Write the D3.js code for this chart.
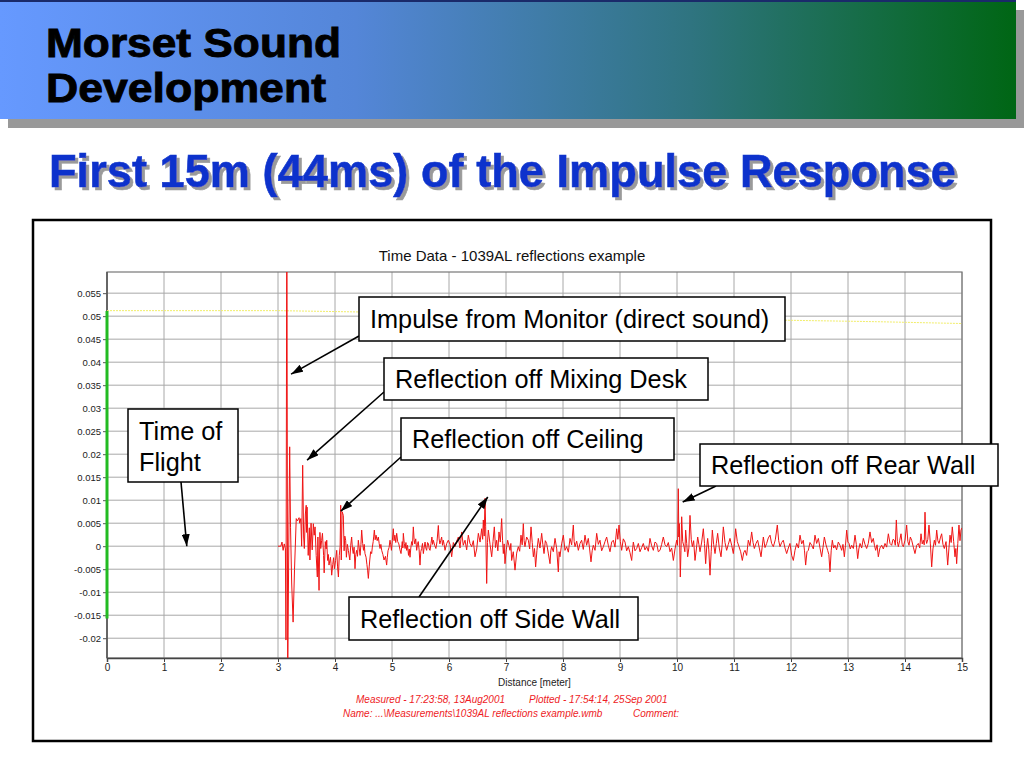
<!DOCTYPE html>
<html>
<head>
<meta charset="utf-8">
<script src="https://cdn.jsdelivr.net/npm/d3@7"></script>
<style>
  body { margin: 0; background: #fff; }
  svg { display: block; }
</style>
</head>
<body>
<svg id="slide" width="1024" height="768"></svg>
<script>
// axis ticks
const xTicks = d3.range(0, 16)
const yTicks = [-0.02, -0.015, -0.01, -0.005, 0, 0.005, 0.01, 0.015, 0.02, 0.025, 0.03, 0.035, 0.04, 0.045, 0.05, 0.055]
const yTickLabels = ["-0.02", "-0.015", "-0.01", "-0.005", "0", "0.005", "0.01", "0.015", "0.02", "0.025", "0.03", "0.035", "0.04", "0.045", "0.05", "0.055"]

// red time trace, [distance m, amplitude]
const onsetTrace = [
  [3.00, 0], [3.05, 0], [3.07, 0.0009], [3.09, -0.0009], [3.11, 0.0005], [3.13, -0.0006],
  [3.14, -0.0204], [3.155, 0.08], [3.17, -0.03], [3.19, 0.002], [3.205, 0.0216], [3.22, 0.004],
  [3.24, -0.008], [3.265, -0.0165], [3.29, -0.005], [3.32, 0.006], [3.34, 0.0055], [3.37, 0.0062],
  [3.38, 0.005], [3.40, 0.006], [3.415, 0.0], [3.433, 0.0176], [3.45, 0.002], [3.462, -0.0005],
  [3.48, 0.007], [3.495, 0.0089], [3.50, 0.003], [3.51, 0.0085], [3.53, -0.002], [3.55, 0.004],
  [3.56, -0.003], [3.58, 0.005], [3.60, -0.0008], [3.62, 0.0049], [3.635, 0.0024], [3.65, 0.0042],
  [3.67, -0.002], [3.69, -0.0067], [3.70, 0.002], [3.72, -0.0096], [3.735, 0.003], [3.75, -0.0005],
  [3.765, 0.0012], [3.78, 0.0028], [3.80, -0.002], [3.81, -0.0058], [3.83, 0.001], [3.845, -0.0006],
  [3.855, 0.0013], [3.87, -0.0031], [3.883, -0.0018], [3.895, -0.0041], [3.92, -0.0024], [3.93, -0.0038],
  [3.942, -0.0063], [3.96, -0.004], [3.975, -0.0025], [3.99, -0.0049]
]
const earlyTrace = [
  [4.01, -0.0031], [4.03, -0.0009], [4.045, -0.0045], [4.06, -0.0067], [4.075, -0.002], [4.09, 0.0],
  [4.10, 0.0089], [4.11, -0.003], [4.125, 0.0075], [4.146, 0.0067], [4.16, -0.001], [4.172, 0.0022],
  [4.187, 0.0013], [4.20, -0.0024], [4.217, 0.0004], [4.234, -0.0009], [4.26, -0.003], [4.276, 0.0002],
  [4.292, 0.0020], [4.305, -0.0004], [4.32, -0.0016], [4.335, -0.0002], [4.351, -0.0049], [4.365, -0.0018],
  [4.38, -0.0009], [4.395, -0.0022], [4.409, 0.0013], [4.425, -0.0004], [4.44, -0.002], [4.455, 0.0004],
  [4.468, 0.0035], [4.485, 0.0006], [4.50, -0.0009], [4.513, 0.0004], [4.526, -0.0016], [4.545, -0.0024],
  [4.56, -0.004], [4.572, -0.0052], [4.585, -0.0070], [4.60, -0.0045], [4.61, -0.003], [4.625, -0.0012],
  [4.643, -0.0016], [4.655, -0.0002], [4.67, 0.001], [4.68, 0.0022], [4.690, 0.0035], [4.705, 0.0014],
  [4.72, 0.0024], [4.74, 0.0012], [4.76, 0.0020], [4.775, 0.0006], [4.79, -0.0005], [4.805, 0.0004],
  [4.819, -0.0009], [4.84, -0.0018], [4.86, -0.003], [4.885, -0.0022], [4.906, -0.0041], [4.918, -0.0024],
  [4.93, -0.001], [4.948, -0.0003], [4.965, 0.0013], [4.978, 0.0003], [4.99, -0.0009], [5.006, 0.0012],
  [5.023, 0.0038], [5.036, 0.0012], [5.05, 0.0024], [5.066, 0.0008], [5.082, 0.0028], [5.10, 0.0010],
  [5.12, 0.0005], [5.14, -0.0008], [5.158, -0.0016], [5.17, -0.0002], [5.18, 0.001], [5.19, -0.0004],
  [5.199, 0.0028], [5.215, 0.0006], [5.23, -0.0005], [5.244, 0.0008], [5.257, -0.0009], [5.272, 0.0002],
  [5.29, -0.002], [5.303, -0.0006], [5.316, -0.0024], [5.33, -0.0004], [5.345, 0.001], [5.36, 0.0002],
  [5.374, 0.0042], [5.388, 0.0014], [5.40, 0.0005], [5.416, 0.0016], [5.433, -0.0009], [5.447, 0.0004],
  [5.46, 0.001], [5.476, -0.0008], [5.491, -0.0041], [5.505, -0.0012], [5.52, -0.0005], [5.535, 0.0006],
  [5.55, -0.0016], [5.565, -0.0002], [5.58, 0.0009], [5.594, -0.0004], [5.608, -0.0009], [5.624, 0.0008],
  [5.64, 0.0005], [5.653, -0.0006], [5.667, -0.0009], [5.684, 0.0006], [5.70, 0.002], [5.712, 0.0004],
  [5.725, 0.0013], [5.748, 0.0002], [5.77, -0.0005], [5.79, 0.0010], [5.813, 0.0045], [5.826, 0.0016],
  [5.84, 0.0005], [5.855, 0.0012], [5.871, 0.002], [5.886, 0.0002], [5.90, 0.0013], [5.915, 0.0004],
  [5.930, -0.0009], [5.96, 0.0006]
]
const midTrace = [
  [5.988, 0.0013], [6.018, 0.0004], [6.047, -0.0023], [6.076, 0.0008], [6.105, -0.0001], [6.135, 0.0011],
  [6.164, 0.0020], [6.193, -0.0004], [6.222, 0.0031], [6.25, 0.0002], [6.281, 0.0013], [6.31, -0.0008],
  [6.339, 0.0024], [6.368, 0.0006], [6.398, -0.0001], [6.427, 0.0012], [6.456, -0.0023], [6.486, -0.0006],
  [6.515, 0.0028], [6.545, 0.0009], [6.573, 0.0038], [6.59, 0.0015], [6.602, 0.0057], [6.618, 0.0022],
  [6.632, 0.0104], [6.643, 0.0042], [6.661, -0.0081], [6.675, 0.0008], [6.690, 0.0035], [6.72, 0.0004],
  [6.749, -0.0023], [6.772, 0.0010], [6.795, 0.0042], [6.815, -0.0003], [6.836, 0.0013], [6.857, -0.0010],
  [6.877, 0.0031], [6.90, 0.0009], [6.924, 0.0060], [6.94, 0.0012], [6.953, -0.0016], [6.968, 0.0005],
  [6.982, -0.0038], [7.005, -0.0008], [7.029, 0.0013], [7.05, 0.0002], [7.070, -0.0009], [7.085, 0.0006],
  [7.099, -0.0031], [7.128, -0.0012], [7.158, -0.0052], [7.187, -0.0015], [7.216, -0.0001], [7.24, -0.0011],
  [7.263, 0.0024], [7.284, 0.0003], [7.304, 0.0049], [7.318, 0.0012], [7.333, -0.0001], [7.362, 0.0020],
  [7.392, 0.0013], [7.415, -0.0006], [7.439, 0.0042], [7.46, 0.0008], [7.480, -0.0023], [7.50, -0.0005],
  [7.520, -0.0045], [7.543, -0.0009], [7.567, 0.0017], [7.596, -0.0004], [7.626, 0.0028], [7.646, 0.0004],
  [7.667, -0.0016], [7.69, 0.0012], [7.713, 0.0006], [7.742, -0.0015], [7.772, -0.0038], [7.786, -0.0010],
  [7.801, -0.0001], [7.83, -0.0012], [7.860, 0.0017], [7.89, -0.0006], [7.918, -0.0056], [7.932, -0.0012],
  [7.947, -0.0023], [7.976, 0.0005], [8.006, 0.0024], [8.035, -0.0009], [8.064, -0.0001], [8.094, -0.0013],
  [8.123, 0.0017], [8.152, 0.0003], [8.181, 0.0046], [8.196, 0.0010], [8.211, -0.0001], [8.24, 0.0011],
  [8.269, -0.0009], [8.298, 0.0006], [8.327, 0.0013], [8.356, -0.0007], [8.386, 0.0024], [8.415, 0.0002],
  [8.444, 0.0017], [8.467, -0.0006], [8.491, -0.0034], [8.512, -0.0010], [8.532, 0.0002], [8.562, -0.0009],
  [8.591, 0.0028], [8.62, 0.0004], [8.649, 0.0013], [8.678, -0.0010], [8.708, -0.0001], [8.737, 0.0010],
  [8.766, 0.0020], [8.795, 0.0002], [8.825, -0.0012], [8.854, 0.0009], [8.883, 0.0013], [8.912, -0.0002],
  [8.942, 0.0038], [8.962, 0.0015], [8.983, 0.0046], [9.006, 0.0010], [9.029, -0.0009]
]
const lateTrace = [
  [9.058, 0.0016], [9.088, 0.0009], [9.117, -0.0010], [9.146, -0.0001], [9.175, -0.0014], [9.205, -0.0031],
  [9.22, -0.0008], [9.234, 0.0009], [9.263, -0.0010], [9.292, -0.0005], [9.322, 0.0006], [9.351, -0.0012],
  [9.38, -0.0003], [9.409, 0.0006], [9.438, -0.0008], [9.468, -0.0001], [9.497, -0.0011], [9.526, 0.0017],
  [9.555, 0.0001], [9.585, -0.0009], [9.614, 0.0009], [9.643, 0.0006], [9.672, -0.0012], [9.702, -0.0009],
  [9.731, 0.0004], [9.760, 0.0020], [9.79, 0.0003], [9.819, -0.0001], [9.848, 0.0008], [9.877, -0.0012],
  [9.906, -0.0004], [9.936, -0.0031], [9.965, -0.0006], [9.994, 0.0013], [10.01, 0.0002], [10.023, 0.0125],
  [10.032, 0.0020], [10.041, 0.0049], [10.058, -0.0067], [10.07, -0.0010], [10.082, 0.0064], [10.10, 0.0010],
  [10.123, -0.0001], [10.138, -0.0012], [10.152, 0.0035], [10.17, 0.0006], [10.187, -0.0023], [10.208, -0.0004],
  [10.228, 0.0067], [10.25, 0.0015], [10.269, -0.0001], [10.292, 0.0012], [10.316, -0.0031], [10.34, -0.0006],
  [10.363, 0.0020], [10.384, 0.0004], [10.404, -0.0012], [10.433, 0.0009], [10.462, 0.0038], [10.482, 0.0006],
  [10.503, -0.0038], [10.52, -0.0004], [10.538, 0.0017], [10.558, -0.0008], [10.579, -0.0063], [10.6, -0.0012],
  [10.620, 0.0035], [10.643, 0.0004], [10.667, -0.0016], [10.69, 0.0006], [10.713, 0.0028], [10.742, -0.0004],
  [10.772, -0.0023], [10.792, 0.0003], [10.813, 0.0042], [10.842, 0.0008], [10.871, -0.0009], [10.9, 0.0004],
  [10.930, 0.0017], [10.959, 0.0002], [10.988, -0.0016], [11.008, 0.0006], [11.029, 0.0038], [11.058, 0.0010],
  [11.088, -0.0001], [11.117, -0.0012], [11.146, -0.0031], [11.17, -0.0014], [11.193, -0.0009], [11.222, -0.0020],
  [11.251, 0.0013], [11.28, 0.0001], [11.310, 0.0031], [11.334, 0.0008], [11.357, -0.0005], [11.386, 0.0006],
  [11.415, 0.0013], [11.444, -0.0004], [11.474, -0.0023], [11.494, -0.0002], [11.515, 0.0020], [11.544, -0.0003],
  [11.573, 0.0006], [11.602, 0.0018], [11.632, 0.0024], [11.66, 0.0006], [11.690, -0.0001], [11.725, 0.0014],
  [11.760, 0.0046], [11.784, 0.0012], [11.807, -0.0001], [11.836, 0.0008], [11.865, 0.0013], [11.895, -0.0004],
  [11.924, -0.0016], [11.953, -0.0004], [11.982, 0.0006], [12.012, -0.0020], [12.041, -0.0031]
]
const tailTrace = [
  [12.070, -0.0009], [12.10, 0.0006], [12.13, -0.0004], [12.158, 0.0024], [12.187, 0.0005], [12.216, 0.0013],
  [12.237, -0.0010], [12.257, -0.0041], [12.28, -0.0012], [12.304, -0.0009], [12.333, 0.0008], [12.363, 0.0002],
  [12.392, -0.0006], [12.421, 0.0024], [12.45, 0.0006], [12.480, 0.0017], [12.509, -0.0004], [12.538, -0.0023],
  [12.562, -0.0002], [12.585, 0.0020], [12.614, 0.0003], [12.643, -0.0009], [12.664, -0.0018], [12.684, -0.0056],
  [12.705, -0.0010], [12.725, 0.0013], [12.748, -0.0004], [12.772, 0.0002], [12.80, -0.0008], [12.830, 0.0009],
  [12.86, 0.0002], [12.889, -0.0009], [12.912, 0.0004], [12.936, -0.0023], [12.956, 0.0002], [12.977, 0.0035],
  [12.998, 0.0009], [13.018, 0.0006], [13.04, -0.0006], [13.064, 0.0002], [13.094, -0.0005], [13.123, 0.0024],
  [13.146, 0.0004], [13.170, -0.0027], [13.19, -0.0006], [13.211, 0.0006], [13.24, -0.0004], [13.269, 0.0017],
  [13.298, 0.0004], [13.327, -0.0005], [13.356, 0.0006], [13.386, 0.0031], [13.415, 0.0008], [13.444, 0.0017],
  [13.464, 0.0002], [13.485, -0.0009], [13.51, 0.0003], [13.532, -0.0023], [13.56, -0.0004], [13.591, 0.0002],
  [13.62, -0.0006], [13.649, 0.0006], [13.678, -0.0002], [13.708, 0.0027], [13.737, 0.0006], [13.766, 0.0002],
  [13.79, 0.0015], [13.813, 0.0013], [13.83, 0.0002], [13.848, 0.0057], [13.866, 0.0010], [13.883, -0.0001],
  [13.906, 0.0012], [13.930, 0.0027], [13.95, 0.0004], [13.971, -0.0001], [14.0, 0.0013], [14.029, 0.0046],
  [14.05, 0.0010], [14.070, 0.0002], [14.094, 0.0020], [14.117, 0.0013], [14.146, -0.0002], [14.175, -0.0016],
  [14.205, 0.0002], [14.234, 0.0006], [14.258, -0.0004], [14.281, 0.0027], [14.302, 0.0005], [14.322, 0.0013],
  [14.337, 0.0003], [14.351, 0.0074], [14.366, 0.0015], [14.380, 0.0006], [14.40, 0.0015], [14.421, 0.0046],
  [14.445, 0.0005], [14.468, -0.0045], [14.49, -0.0006], [14.515, 0.0013], [14.535, 0.0002], [14.556, 0.0035],
  [14.576, 0.0012], [14.597, 0.0006], [14.62, 0.0018], [14.643, 0.0027], [14.666, 0.0004], [14.690, -0.0005],
  [14.72, 0.0010], [14.749, -0.0041], [14.77, -0.0006], [14.790, 0.0024], [14.81, 0.0008], [14.830, 0.0042],
  [14.854, 0.0010], [14.877, -0.0023], [14.892, -0.0005], [14.906, -0.0038], [14.926, 0.0006], [14.947, 0.0046],
  [14.965, 0.0012], [14.982, 0.0035], [15.0, 0.0040]
]

// yellow level line and green marker on the y axis
const levelTrace = [[0, 0.0512], [3, 0.0512], [6, 0.0506], [8, 0.0501], [10, 0.0496], [12, 0.0491], [13.5, 0.0488], [15, 0.0484]]
const greenSpan = [0.0511, -0.0157]

// call-outs: box in page px, arrow tip in data units
const callouts = [
  { lines: ["Impulse from Monitor (direct sound)"], box: [359, 297, 426, 44], from: [359, 336], tip: [3.23, 0.0374] },
  { lines: ["Reflection off Mixing Desk"], box: [384, 358, 324, 42], from: [384, 392], tip: [3.51, 0.0187] },
  { lines: ["Reflection off Ceiling"], box: [401, 418, 273, 42], from: [401, 457], tip: [4.10, 0.0076] },
  { lines: ["Time of", "Flight"], box: [128, 409, 110, 73], from: [181, 482], tip: [1.40, 0.0] },
  { lines: ["Reflection off Rear Wall"], box: [700, 444, 298, 42], from: [716, 486], tip: [10.10, 0.0096] },
  { lines: ["Reflection off Side Wall"], box: [349, 597, 289, 43], from: [419, 597], tip: [6.68, 0.0107] }
]

const svg = d3.select("#slide")
const font = "'Liberation Sans', Arial, Helvetica, sans-serif"
const defs = svg.append("defs")

// header bar
const grad = defs.append("linearGradient").attr("id", "hdr")
grad.append("stop").attr("offset", "0%").attr("stop-color", "#6699ff")
grad.append("stop").attr("offset", "35%").attr("stop-color", "#5486d8")
grad.append("stop").attr("offset", "68%").attr("stop-color", "#2f7480")
grad.append("stop").attr("offset", "100%").attr("stop-color", "#006614")

const shadow = defs.append("filter").attr("id", "shadow")
  .attr("x", "-5%").attr("y", "-20%").attr("width", "110%").attr("height", "140%")
shadow.append("feDropShadow")
  .attr("dx", 3).attr("dy", 3).attr("stdDeviation", 0)
  .attr("flood-color", "#9a9a9a").attr("flood-opacity", 1)

svg.append("rect").attr("x", 8).attr("y", 10).attr("width", 1016).attr("height", 118).attr("fill", "#999")
svg.append("rect").attr("x", 0).attr("y", 0).attr("width", 1016).attr("height", 119).attr("fill", "url(#hdr)")
svg.append("rect").attr("x", 0).attr("y", 0).attr("width", 1016).attr("height", 2).attr("fill", "#1a2a6a")

svg.append("g")
  .attr("font-family", font)
  .attr("font-weight", "bold")
  .attr("font-size", 40)
  .attr("fill", "#000")
  .attr("stroke", "#000")
  .attr("stroke-width", 0.9)
  .selectAll("text")
  .data([["Morset Sound", 57, 295], ["Development", 102, 280]])
  .join("text")
  .attr("x", 46)
  .attr("y", d => d[1])
  .attr("textLength", d => d[2])
  .attr("lengthAdjust", "spacingAndGlyphs")
  .text(d => d[0])

// slide title with drop shadow
svg.append("text")
  .attr("x", 49).attr("y", 187)
  .attr("font-family", font).attr("font-weight", "bold").attr("font-size", 46)
  .attr("fill", "#0b33cc").attr("stroke", "#0b33cc").attr("stroke-width", 0.6)
  .attr("textLength", 907).attr("lengthAdjust", "spacingAndGlyphs")
  .attr("filter", "url(#shadow)")
  .text("First 15m (44ms) of the Impulse Response")

// chart frame
svg.append("rect")
  .attr("x", 33).attr("y", 220).attr("width", 958).attr("height", 521)
  .attr("fill", "#fff").attr("stroke", "#000").attr("stroke-width", 2.5)

const plot = { left: 107, right: 962, top: 272, bottom: 658 }
const x = d3.scaleLinear().domain([0, 15]).range([plot.left, plot.right])
const y = d3.scaleLinear().domain([-0.0243, 0.0596]).range([plot.bottom, plot.top])

svg.append("text")
  .attr("x", 512).attr("y", 261)
  .attr("text-anchor", "middle")
  .attr("font-family", font).attr("font-size", 15).attr("fill", "#111")
  .text("Time Data - 1039AL reflections example")

// grid
const grid = svg.append("g").attr("stroke", "#a8a8a8").attr("stroke-width", 1)
grid.selectAll("line.v")
  .data(xTicks)
  .join("line")
  .attr("class", "v")
  .attr("x1", d => x(d)).attr("x2", d => x(d))
  .attr("y1", plot.top).attr("y2", plot.bottom)
grid.selectAll("line.h")
  .data(yTicks)
  .join("line")
  .attr("class", "h")
  .attr("x1", plot.left).attr("x2", plot.right)
  .attr("y1", d => y(d)).attr("y2", d => y(d))

svg.append("rect")
  .attr("x", plot.left).attr("y", plot.top)
  .attr("width", plot.right - plot.left).attr("height", plot.bottom - plot.top)
  .attr("fill", "none").attr("stroke", "#777").attr("stroke-width", 1.2)

// axes
const yAxis = svg.append("g")
  .attr("transform", `translate(${plot.left},0)`)
  .call(d3.axisLeft(y).tickValues(yTicks).tickFormat((d, i) => yTickLabels[i]).tickSize(4).tickPadding(2))
yAxis.select(".domain").remove()
yAxis.selectAll("line").attr("stroke", "#555")
yAxis.selectAll("text").attr("font-family", font).attr("font-size", 9.5).attr("fill", "#222")

const xAxis = svg.append("g")
  .attr("transform", `translate(0,${plot.bottom})`)
  .call(d3.axisBottom(x).tickValues(xTicks).tickFormat(d3.format("d")).tickSize(4).tickPadding(2))
xAxis.select(".domain").attr("stroke", "#444").attr("stroke-width", 1.5)
xAxis.selectAll("line").attr("stroke", "#444")
xAxis.selectAll("text").attr("font-family", font).attr("font-size", 10).attr("fill", "#222")

svg.append("line")
  .attr("x1", plot.left).attr("x2", plot.left)
  .attr("y1", plot.top).attr("y2", plot.bottom)
  .attr("stroke", "#555").attr("stroke-width", 1.5)

svg.append("text")
  .attr("x", (plot.left + plot.right) / 2).attr("y", 686)
  .attr("text-anchor", "middle")
  .attr("font-family", font).attr("font-size", 10).attr("fill", "#222")
  .text("Distance [meter]")

// traces
defs.append("clipPath").attr("id", "plotClip")
  .append("rect")
  .attr("x", plot.left).attr("y", plot.top)
  .attr("width", plot.right - plot.left).attr("height", plot.bottom - plot.top)

const line = d3.line().x(d => x(d[0])).y(d => y(d[1]))
const traces = svg.append("g").attr("clip-path", "url(#plotClip)")

traces.append("path")
  .datum(levelTrace)
  .attr("fill", "none")
  .attr("stroke", "#f2ee6a")
  .attr("stroke-width", 1)
  .attr("stroke-dasharray", "2,1")
  .attr("d", line)

traces.append("path")
  .datum(onsetTrace.concat(earlyTrace, midTrace, lateTrace, tailTrace))
  .attr("fill", "none")
  .attr("stroke", "#f01414")
  .attr("stroke-width", 1)
  .attr("stroke-linejoin", "round")
  .attr("d", line)

svg.append("line")
  .attr("x1", x(0)).attr("x2", x(0))
  .attr("y1", y(greenSpan[0])).attr("y2", y(greenSpan[1]))
  .attr("stroke", "#22bb22").attr("stroke-width", 3)

// call-outs
defs.append("marker")
  .attr("id", "arrow")
  .attr("viewBox", "0 0 12 8")
  .attr("refX", 12).attr("refY", 4)
  .attr("markerWidth", 12).attr("markerHeight", 8)
  .attr("markerUnits", "userSpaceOnUse")
  .attr("orient", "auto")
  .append("path").attr("d", "M0,0 L12,4 L0,8 Z").attr("fill", "#000")

const co = svg.append("g").selectAll("g").data(callouts).join("g")
co.append("line")
  .attr("x1", d => d.from[0]).attr("y1", d => d.from[1])
  .attr("x2", d => x(d.tip[0])).attr("y2", d => y(d.tip[1]))
  .attr("stroke", "#000").attr("stroke-width", 1.6)
  .attr("marker-end", "url(#arrow)")
co.append("rect")
  .attr("x", d => d.box[0]).attr("y", d => d.box[1])
  .attr("width", d => d.box[2]).attr("height", d => d.box[3])
  .attr("fill", "#fff").attr("stroke", "#000").attr("stroke-width", 1.5)
co.each(function (d) {
  const g = d3.select(this)
  d.lines.forEach((t, i) => {
    g.append("text")
      .attr("x", d.box[0] + 11)
      .attr("y", d.lines.length > 1 ? d.box[1] + 31 + i * 31 : d.box[1] + d.box[3] / 2 + 9)
      .attr("font-family", font).attr("font-size", 25.3).attr("fill", "#000")
      .text(t)
  })
})

// footnote
const foot = svg.append("g")
  .attr("font-family", font).attr("font-size", 10).attr("font-style", "italic").attr("fill", "#ee1c25")
foot.append("text").attr("x", 356).attr("y", 703).text("Measured - 17:23:58, 13Aug2001")
foot.append("text").attr("x", 529).attr("y", 703).text("Plotted - 17:54:14, 25Sep 2001")
foot.append("text").attr("x", 343).attr("y", 717).text("Name: ...\\Measurements\\1039AL reflections example.wmb")
foot.append("text").attr("x", 633).attr("y", 717).text("Comment:")
</script>
</body>
</html>
